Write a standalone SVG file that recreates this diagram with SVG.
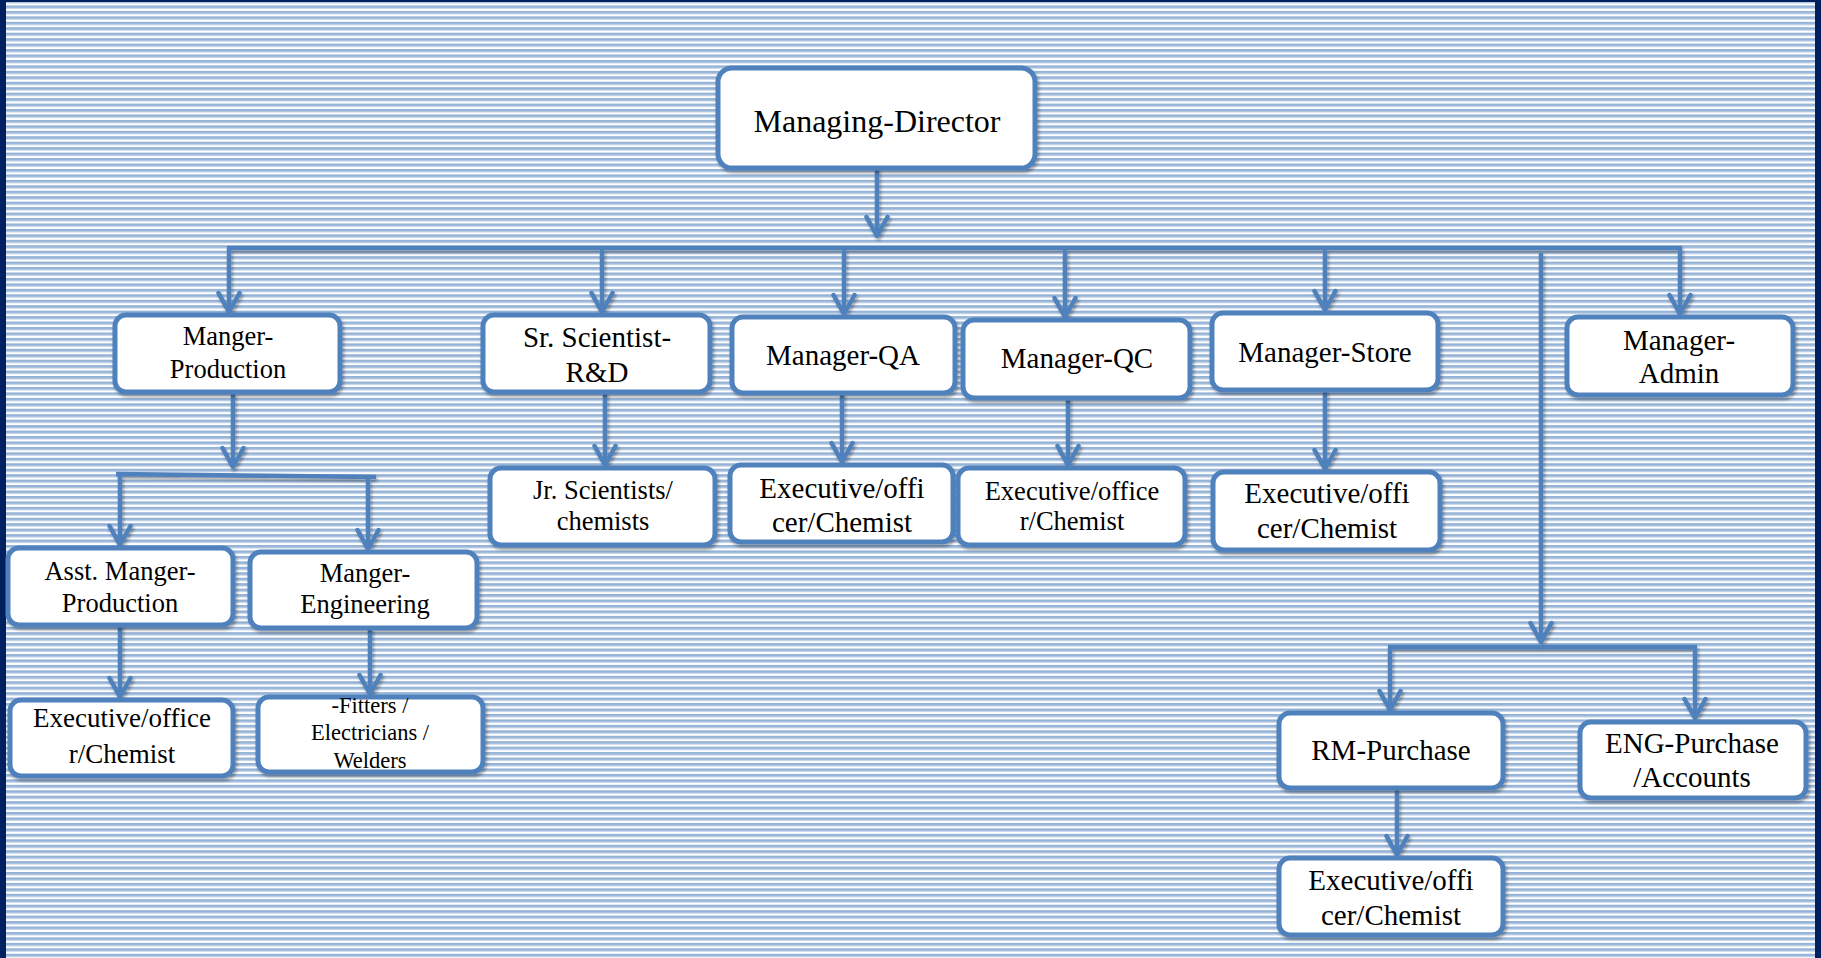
<svg xmlns="http://www.w3.org/2000/svg" width="1821" height="958" viewBox="0 0 1821 958">
<defs>
<pattern id="stripes" patternUnits="userSpaceOnUse" width="20" height="5.45">
<rect x="0" y="0" width="20" height="5.45" fill="#ffffff"/>
<rect x="0" y="0" width="20" height="2.6" fill="#95b3d7"/>
<rect x="0" y="2.6" width="20" height="0.9" fill="#c6d6ea"/>
</pattern>
<filter id="sh" x="-10%" y="-10%" width="120%" height="130%">
<feDropShadow dx="1.5" dy="2.5" stdDeviation="1.8" flood-color="#000" flood-opacity="0.35"/>
</filter>
<marker id="arr" markerUnits="userSpaceOnUse" markerWidth="30" markerHeight="30" viewBox="-15 -25 30 30" refX="0" refY="0" orient="auto-start-reverse">
<path d="M-18,-10 L0,0 L-18,10" fill="none" stroke="#4f81bd" stroke-width="4.5" stroke-linecap="round" stroke-linejoin="round" transform="rotate(0)"/>
</marker>
<marker id="a" markerUnits="userSpaceOnUse" markerWidth="30" markerHeight="30" viewBox="-22 -15 30 30" refX="0" refY="0" orient="auto">
<path d="M-19,-10.5 L0,0 L-19,10.5" fill="none" stroke="#4f81bd" stroke-width="4.5" stroke-linecap="round" stroke-linejoin="round"/>
</marker>
</defs>
<style>
.box{fill:#ffffff;stroke:#4f81bd;stroke-width:5;filter:url(#sh)}
.c{fill:none;stroke:#4f81bd;stroke-width:4.5}
.ar{marker-end:url(#a)}
text{font-family:"Liberation Serif","Times New Roman",serif;fill:#000;text-anchor:middle}
.t32{font-size:32px}.t29{font-size:29px}.t27{font-size:27px}.t26{font-size:26.5px}.t23{font-size:22.5px}
</style>
<rect x="0" y="0" width="1821" height="958" fill="#002060"/>
<rect x="6" y="2" width="1809" height="956" fill="url(#stripes)"/>

<g id="connectors" filter="url(#sh)">
<path class="c ar" d="M877 168 V236"/>
<path class="c" d="M227 248 H1682"/>
<path class="c ar" d="M229 248 V312"/>
<path class="c ar" d="M602 248 V312"/>
<path class="c ar" d="M844 248 V314"/>
<path class="c ar" d="M1065 248 V317"/>
<path class="c ar" d="M1325 248 V310"/>
<path class="c ar" d="M1680 248 V314"/>
<path class="c ar" d="M1541 253 V642"/>
<path class="c" d="M1388 647 H1697"/>
<path class="c ar" d="M1390 647 V710"/>
<path class="c ar" d="M1695 647 V718"/>
<path class="c ar" d="M1397 790 V855"/>
<path class="c ar" d="M233 393 V467"/>
<path class="c" d="M116 474 L376 477"/>
<path class="c ar" d="M120 475 V545"/>
<path class="c ar" d="M368 477 V549"/>
<path class="c ar" d="M120 625 V697"/>
<path class="c ar" d="M370 628 V694"/>
<path class="c ar" d="M605 392 V465"/>
<path class="c ar" d="M842 393 V462"/>
<path class="c ar" d="M1068 398 V465"/>
<path class="c ar" d="M1325 390 V469"/>
</g>

<g id="managing-director"><rect class="box" x="718" y="68" width="317" height="100" rx="14"/><text class="t32" x="877" y="132">Managing-Director</text></g>
<g id="manager-production"><rect class="box" x="115" y="315" width="225" height="77" rx="11"/><text class="t26" x="228" y="345">Manger-</text><text class="t26" x="228" y="378">Production</text></g>
<g id="sr-scientist"><rect class="box" x="483" y="315" width="227" height="77" rx="11"/><text class="t29" x="597" y="347">Sr. Scientist-</text><text class="t29" x="597" y="382">R&amp;D</text></g>
<g id="manager-qa"><rect class="box" x="732" y="317" width="223" height="76" rx="11"/><text class="t29" x="843" y="365">Manager-QA</text></g>
<g id="manager-qc"><rect class="box" x="963" y="320" width="227" height="78" rx="11"/><text class="t29" x="1077" y="368">Manager-QC</text></g>
<g id="manager-store"><rect class="box" x="1212" y="313" width="226" height="77" rx="11"/><text class="t29" x="1325" y="362">Manager-Store</text></g>
<g id="manager-admin"><rect class="box" x="1567" y="317" width="226" height="78" rx="11"/><text class="t29" x="1679" y="350">Manager-</text><text class="t29" x="1679" y="383">Admin</text></g>
<g id="asst-manager-production"><rect class="box" x="8" y="548" width="225" height="77" rx="11"/><text class="t26" x="120" y="580">Asst. Manger-</text><text class="t26" x="120" y="612">Production</text></g>
<g id="manager-engineering"><rect class="box" x="250" y="552" width="227" height="76" rx="11"/><text class="t26" x="365" y="582">Manger-</text><text class="t26" x="365" y="613">Engineering</text></g>
<g id="exec-production"><rect class="box" x="10" y="700" width="223" height="76" rx="11"/><text class="t27" x="122" y="727">Executive/office</text><text class="t27" x="122" y="763">r/Chemist</text></g>
<g id="fitters"><rect class="box" x="258" y="697" width="225" height="75" rx="11"/><text class="t23" x="370" y="713">-Fitters /</text><text class="t23" x="370" y="740">Electricians /</text><text class="t23" x="370" y="768">Welders</text></g>
<g id="jr-scientists"><rect class="box" x="490" y="468" width="225" height="77" rx="11"/><text class="t26" x="603" y="499">Jr. Scientists/</text><text class="t26" x="603" y="530">chemists</text></g>
<g id="exec-qa"><rect class="box" x="730" y="465" width="223" height="77" rx="11"/><text class="t29" x="842" y="498">Executive/offi</text><text class="t29" x="842" y="532">cer/Chemist</text></g>
<g id="exec-qc"><rect class="box" x="958" y="468" width="227" height="77" rx="11"/><text class="t26" x="1072" y="500">Executive/office</text><text class="t26" x="1072" y="530">r/Chemist</text></g>
<g id="exec-store"><rect class="box" x="1213" y="472" width="227" height="78" rx="11"/><text class="t29" x="1327" y="503">Executive/offi</text><text class="t29" x="1327" y="538">cer/Chemist</text></g>
<g id="rm-purchase"><rect class="box" x="1279" y="713" width="224" height="75" rx="11"/><text class="t29" x="1391" y="760">RM-Purchase</text></g>
<g id="eng-purchase"><rect class="box" x="1580" y="722" width="226" height="76" rx="11"/><text class="t29" x="1692" y="753">ENG-Purchase</text><text class="t29" x="1692" y="787">/Accounts</text></g>
<g id="exec-rm"><rect class="box" x="1279" y="858" width="224" height="77" rx="11"/><text class="t29" x="1391" y="890">Executive/offi</text><text class="t29" x="1391" y="925">cer/Chemist</text></g>
</svg>
